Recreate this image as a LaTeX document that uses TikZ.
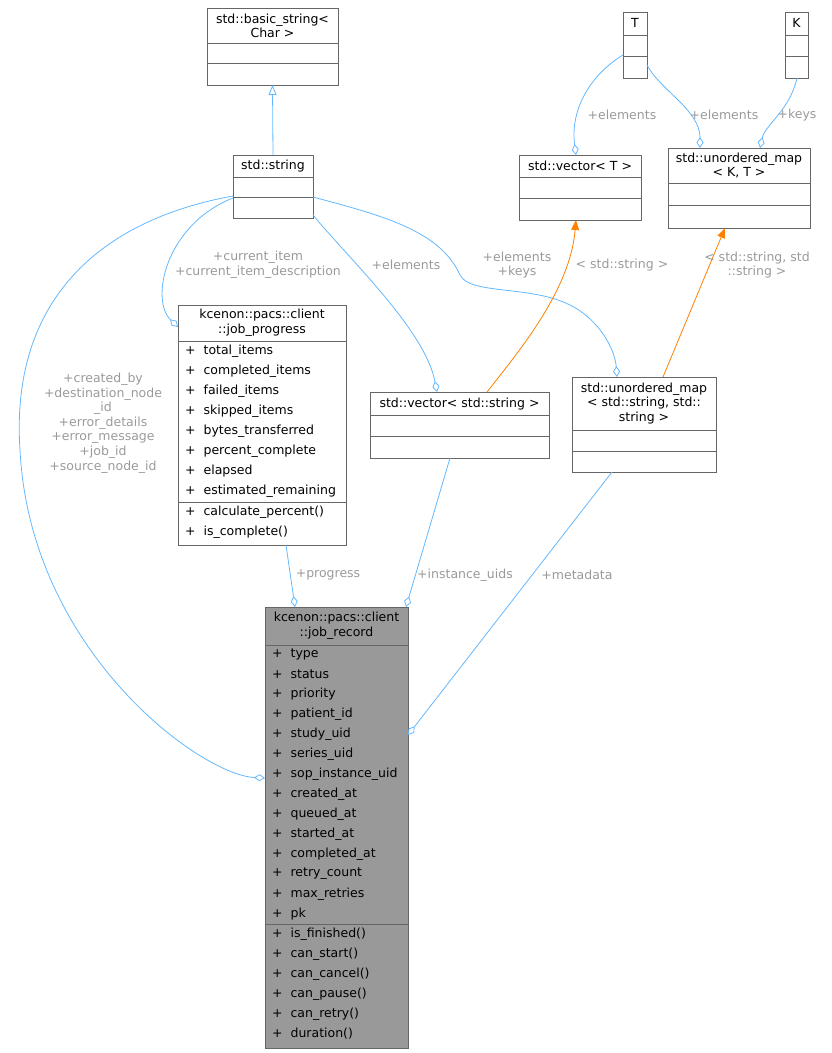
\documentclass[tikz,border=0pt]{standalone}
\usepackage{fontspec}
\setmainfont{DejaVu Sans}
\usetikzlibrary{arrows.meta,calc}
\definecolor{edge}{HTML}{63B8FF}
\definecolor{lab}{HTML}{9A9A9A}
\definecolor{bord}{HTML}{666666}
\begin{document}
\begin{tikzpicture}[x=1pt,y=-1pt,
  cbox/.style={draw=bord,fill=white,inner sep=0,outer sep=0,anchor=north west,line width=0.8pt},
  cline/.style={draw=bord,line width=0.8pt},
  txt/.style={font=\fontsize{12.5}{14.6}\selectfont,inner sep=0,align=center},
  mem/.style={font=\fontsize{12.5}{14.6}\selectfont,inner sep=0,anchor=west},
  lbl/.style={font=\fontsize{12.5}{14.6}\selectfont,inner sep=0,align=center,text=lab},
  agg/.style={draw=edge,line width=0.8pt,-{Diamond[open,length=11pt,width=7pt]}},
  inh/.style={draw=edge,line width=0.8pt,-{Triangle[open,length=10pt,width=8pt]}},
  tmpl/.style={draw=orange,line width=0.8pt,-{Triangle[length=10pt,width=8pt]}}]
\useasboundingbox (0,0) rectangle (832,1053);
% boxes
\node[cbox,minimum width=131,minimum height=77] (bs) at (207,8) {};
\draw[cline] (207,43)--(338,43) (207,63)--(338,63);
\node[txt] (bst) at (272.5,26) {std::basic\_string<\\Char >};
\node[cbox,minimum width=80,minimum height=63] (str) at (233,155) {};
\draw[cline] (233,177)--(313,177) (233,197)--(313,197);
\node[txt] (strt) at (273,166) {std::string};
\node[cbox,minimum width=24,minimum height=66] (T) at (623,12) {};
\draw[cline] (623,35)--(647,35) (623,56)--(647,56);
\node[txt] (Tt) at (635,23) {T};
\node[cbox,minimum width=23,minimum height=66] (K) at (785,12) {};
\draw[cline] (785,35)--(808,35) (785,56)--(808,56);
\node[txt] (Kt) at (796.5,23) {K};
\node[cbox,minimum width=122,minimum height=65] (vT) at (519,155) {};
\draw[cline] (519,177)--(641,177) (519,198)--(641,198);
\node[txt] (vTt) at (580,166) {std::vector< T >};
\node[cbox,minimum width=142,minimum height=80] (uKT) at (668,148) {};
\draw[cline] (668,183)--(810,183) (668,205)--(810,205);
\node[txt] (uKTt) at (739,165.5) {std::unordered\_map\\< K, T >};
\node[cbox,minimum width=168,minimum height=240] (jp) at (178,305) {};
\draw[cline] (178,341)--(346,341) (178,502)--(346,502);
\node[txt] (jpt) at (262,323) {kcenon::pacs::client\\::job\_progress};
\foreach \t [count=\i from 0] in {total\_items,completed\_items,failed\_items,skipped\_items,bytes\_transferred,percent\_complete,elapsed,estimated\_remaining}
  \node[mem] (jpa\i) at (185,351+20*\i) {+\ \ \t};
\foreach \t [count=\i from 0] in {calculate\_percent(),is\_complete()}
  \node[mem] (jpm\i) at (185,512+20*\i) {+\ \ \t};
\node[cbox,minimum width=179,minimum height=66] (vs) at (370,392) {};
\draw[cline] (370,415)--(549,415) (370,436)--(549,436);
\node[txt] (vst) at (459.5,404) {std::vector< std::string >};
\node[cbox,minimum width=144,minimum height=95] (uss) at (572,377) {};
\draw[cline] (572,430)--(716,430) (572,451)--(716,451);
\node[txt] (usst) at (644,403.5) {std::unordered\_map\\< std::string, std::\\string >};
\node[cbox,fill=black!40,minimum width=143,minimum height=441] (jr) at (265,607) {};
\draw[cline] (265,645)--(408,645) (265,924)--(408,924);
\node[txt] (jrt) at (336.5,626) {kcenon::pacs::client\\::job\_record};
\foreach \t [count=\i from 0] in {type,status,priority,patient\_id,study\_uid,series\_uid,sop\_instance\_uid,created\_at,queued\_at,started\_at,completed\_at,retry\_count,max\_retries,pk}
  \node[mem] (jra\i) at (272,654+20*\i) {+\ \ \t};
\foreach \t [count=\i from 0] in {is\_finished(),can\_start(),can\_cancel(),can\_pause(),can\_retry(),duration()}
  \node[mem] (jrm\i) at (272,934+20*\i) {+\ \ \t};
% edges
\draw[inh] (str.north) -- (bs.south);
\draw[agg] ($(str.south west)+(0,-20)$) .. controls (165,225) and (150,300) .. ($(jp.north west)+(0,22)$);
\draw[agg] ($(str.south west)+(0,-22)$) .. controls (100,220) and (10,300) .. (20,450) .. controls (30,650) and (200,775) .. ($(jr.north west)+(0,171)$);
\draw[agg] ($(str.south east)+(0,-3)$) .. controls (350,260) and (425,330) .. ($(vs.north west)+(67,0)$);
\draw[agg] ($(str.south east)+(0,-21)$) .. controls (380,215) and (440,230) .. (460,275) .. controls (470,295) and (530,285) .. (570,305) .. controls (600,320) and (615,350) .. ($(uss.north west)+(45,0)$);
\draw[agg] ($(T.north west)+(0,43)$) .. controls (590,75) and (570,110) .. ($(vT.north west)+(57,0)$);
\draw[agg] ($(T.north east)+(0,53)$) .. controls (660,90) and (700,110) .. ($(uKT.north west)+(32,0)$);
\draw[agg] ($(K.south west)+(12,0)$) .. controls (790,110) and (765,125) .. ($(uKT.north west)+(92,0)$);
\draw[tmpl] ($(vs.north west)+(117,0)$) .. controls (520,350) and (570,290) .. ($(vT.south west)+(57,0)$);
\draw[tmpl] ($(uss.north west)+(91,0)$) -- ($(uKT.south west)+(57,0)$);
\draw[agg] ($(jp.south west)+(108,0)$) -- ($(jr.north west)+(30,0)$);
\draw[agg] ($(vs.south west)+(80,0)$) -- ($(jr.north east)+(-2,0)$);
\draw[agg] ($(uss.south west)+(40,0)$) -- ($(jr.north east)+(0,128)$);
% labels
\node[lbl] (l1) at (258,265) {+current\_item\\+current\_item\_description};
\node[lbl] (l2) at (103,423) {+created\_by\\+destination\_node\\\_id\\+error\_details\\+error\_message\\+job\_id\\+source\_node\_id};
\node[lbl] (l3) at (406,265) {+elements};
\node[lbl] (l4) at (517,265) {+elements\\+keys};
\node[lbl] (l5) at (622,115) {+elements};
\node[lbl] (l6) at (724,115) {+elements};
\node[lbl] (l7) at (797,115) {+keys};
\node[lbl] (l8) at (622,265) {< std::string >};
\node[lbl] (l9) at (757,265) {< std::string, std\\::string >};
\node[lbl] (l10) at (328,575) {+progress};
\node[lbl] (l11) at (465,575) {+instance\_uids};
\node[lbl] (l12) at (577,575) {+metadata};
\end{tikzpicture}
\end{document}
